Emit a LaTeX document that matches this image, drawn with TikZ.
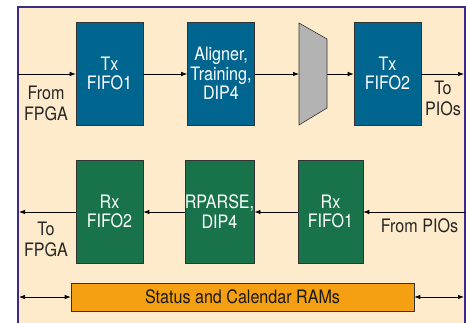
\documentclass[tikz,border=0pt]{standalone}
\usepackage{fontspec}
\setmainfont{TeX Gyre Heros}[FakeStretch=0.87]
\usetikzlibrary{arrows.meta}
\definecolor{framecol}{HTML}{3D2B86}
\definecolor{creamfill}{HTML}{FEEBCB}
\definecolor{txblue}{HTML}{00668F}
\definecolor{rxgreen}{HTML}{18734A}
\definecolor{ramorange}{HTML}{F4A012}
\definecolor{muxgray}{HTML}{B3B3B3}
\tikzset{
  block/.style={draw=black!80, line width=0.6pt, inner sep=0pt, text=white,
    align=center, font=\fontsize{18.5}{19.5}\selectfont},
  txblock/.style={block, fill=txblue},
  rxblock/.style={block, fill=rxgreen},
  lbl/.style={align=center, inner sep=0pt, text=black!85,
    font=\fontsize{18.5}{21}\selectfont},
  flow/.style={line width=0.7pt, -{Latex[length=6pt,width=4.5pt]}},
  bothway/.style={line width=0.7pt, {Latex[length=6pt,width=4.5pt]}-{Latex[length=6pt,width=4.5pt]}}
}
\begin{document}
\begin{tikzpicture}[x=1pt,y=-1pt]
\useasboundingbox (0,0) rectangle (466,323);
\fill[white] (0,0) rectangle (466,323);
% enclosing block
\begin{scope}
\clip (0,0) rectangle (466,323);
\draw[framecol, line width=2pt, fill=creamfill] (18,7) rectangle (465,335);
\end{scope}
\coordinate (inL) at (18,74);
\coordinate (outR) at (464,74);
\coordinate (rxinR) at (465,212);
\coordinate (rxoutL) at (19,212);
\coordinate (ramL) at (19,297);
\coordinate (ramR) at (464,297);

% transmit path
\node[txblock, minimum width=67pt, minimum height=103pt] (txf1) at (109.5,73.5) {Tx\\FIFO1};
\node[txblock, minimum width=67pt, minimum height=103pt] (align) at (221,73.5) {Aligner,\\Training,\\DIP4};
\draw[draw=black!80, line width=0.6pt, fill=muxgray] (299,23) -- (327,39) -- (327,108) -- (299,125) -- cycle;
\coordinate (muxL) at (299,74);
\coordinate (muxR) at (327,74);
\node[txblock, minimum width=67pt, minimum height=103pt] (txf2) at (387.5,73.5) {Tx\\FIFO2};

% receive path
\node[rxblock, minimum width=67pt, minimum height=103pt] (rxf2) at (109.5,211.5) {Rx\\FIFO2};
\node[rxblock, minimum width=69pt, minimum height=103pt] (rparse) at (219.5,211.5) {RPARSE,\\DIP4};
\node[rxblock, minimum width=65pt, minimum height=103pt] (rxf1) at (330.5,211.5) {Rx\\FIFO1};

% status RAMs
\node[draw=black!80, line width=0.6pt, fill=ramorange, minimum width=343pt, minimum height=28pt,
  inner sep=0pt, text=black!90, font=\fontsize{18.5}{19.5}\selectfont] (ram) at (242.5,297) {Status and Calendar RAMs\hspace{14pt}};

% connectors
\draw[flow] (inL) -- (inL -| txf1.west);
\draw[flow] (txf1.east |- inL) -- (align.west |- inL);
\draw[flow] (align.east |- inL) -- (muxL);
\draw[flow] (muxR) -- (txf2.west |- inL);
\draw[flow] (txf2.east |- inL) -- (outR);

\draw[flow] (rxinR) -- (rxinR -| rxf1.east);
\draw[flow] (rxf1.west |- rxinR) -- (rparse.east |- rxinR);
\draw[flow] (rparse.west |- rxinR) -- (rxf2.east |- rxinR);
\draw[flow] (rxf2.west |- rxinR) -- (rxoutL);

\draw[bothway] (ramL) -- (ram.west);
\draw[bothway] (ram.east) -- (ramR);

% port labels
\node[lbl] (fromfpga) at (46,103) {From\\FPGA};
\node[lbl] (topios) at (443,98) {To\\PIOs};
\node[lbl] (tofpga) at (46,239) {To\\FPGA};
\node[lbl] (frompios) at (419.5,226) {From PIOs};
\end{tikzpicture}
\end{document}
